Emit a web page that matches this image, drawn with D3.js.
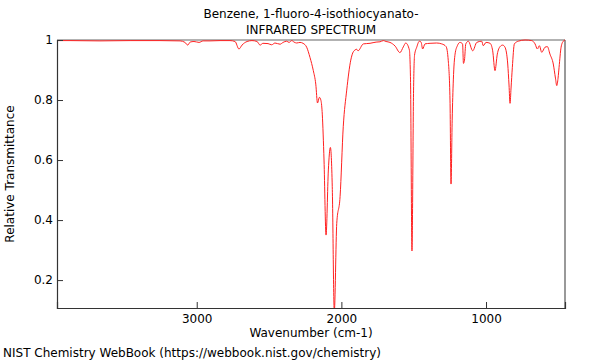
<!DOCTYPE html>
<html><head><meta charset="utf-8">
<script src="https://cdn.jsdelivr.net/npm/d3@7"></script>
<style>body{margin:0;background:#fff;}svg{display:block;font-family:"DejaVu Sans",sans-serif;}</style>
</head><body>
<svg id="chart" width="600" height="360"></svg>
<script>
const titleLines = ["Benzene, 1-fluoro-4-isothiocyanato-", "INFRARED SPECTRUM"];
const xLabel = "Wavenumber (cm-1)";
const yLabel = "Relative Transmittance";
const footer = "NIST Chemistry WebBook (https://webbook.nist.gov/chemistry)";
const xTicks = [3000, 2000, 1000];
const yTicks = [0.2, 0.4, 0.6, 0.8, 1];
const wavenumber = [3966,3876,3669,3461,3254,3115,3081,3062,3046,3019,2984,2956,2908,2839,2770,2735,2708,2687,2652,2618,2583,2562,2542,2507,2482,2459,2424,2403,2378,2362,2343,2327,2309,2286,2265,2240,2217,2194,2177,2165,2152,2141,2132,2120,2106,2090,2076,2063,2049,2032,2009,1987,1963,1935,1917,1894,1885,1848,1802,1760,1733,1710,1691,1664,1629,1595,1572,1555,1530,1522,1512,1501,1494,1479,1461,1449,1438,1422,1387,1341,1306,1276,1261,1249,1242,1234,1226,1214,1198,1180,1162,1156,1149,1140,1122,1092,1064,1030,1019,1000,972,954,938,922,903,885,869,850,841,834,827,818,804,777,730,684,661,645,631,615,592,576,558,535,520,511,502,495,481,466,454];
const transmittance = [0.998,0.998,0.997,0.998,0.998,0.997,0.992,0.983,0.993,0.995,0.992,0.997,0.997,0.998,0.998,0.995,0.970,0.983,0.995,0.998,0.995,0.983,0.989,0.988,0.984,0.990,0.986,0.992,0.996,0.992,0.998,0.993,0.990,0.992,0.989,0.976,0.942,0.898,0.853,0.790,0.809,0.798,0.753,0.600,0.350,0.567,0.642,0.511,0.093,0.389,0.478,0.711,0.833,0.933,0.961,0.969,0.964,0.987,0.989,0.993,0.994,0.998,0.995,0.992,0.980,0.958,0.977,0.990,0.967,0.867,0.297,0.833,0.950,0.976,0.996,0.993,0.970,0.987,0.989,0.990,0.987,0.978,0.931,0.800,0.520,0.733,0.867,0.953,0.981,0.992,0.987,0.922,0.933,0.987,0.996,0.964,0.992,0.996,0.981,0.992,0.989,0.964,0.898,0.953,0.978,0.983,0.976,0.920,0.850,0.789,0.840,0.909,0.987,0.996,1.000,0.998,0.987,0.970,0.981,0.959,0.976,0.978,0.953,0.920,0.873,0.848,0.873,0.909,0.976,0.996,1.000];

const svg = d3.select("#chart");
const m = {left:57, right:565, top:40, bottom:308};
const x = d3.scaleLinear().domain([3966, 454]).range([m.left, m.right]);
const y = d3.scaleLinear().domain([0.107, 1]).range([m.bottom, m.top]);
const data = wavenumber.map((w,i)=>({w, t: transmittance[i]}));

svg.append("defs").append("clipPath").attr("id","clip")
  .append("rect").attr("x", m.left).attr("y", m.top - 2).attr("width", m.right - m.left).attr("height", m.bottom - m.top + 2);

// frame top & right (gray)
svg.append("line").attr("x1", m.left).attr("x2", m.right).attr("y1", m.top).attr("y2", m.top)
  .attr("stroke", "#999").attr("stroke-width", 1.5);
svg.append("line").attr("x1", m.right).attr("x2", m.right).attr("y1", m.top).attr("y2", m.bottom)
  .attr("stroke", "#555").attr("stroke-width", 1.2);

// spectrum
svg.append("path").datum(data)
  .attr("clip-path", "url(#clip)")
  .attr("fill", "none").attr("stroke", "#ff2020").attr("stroke-width", 1)
  .attr("d", d3.line().x(d=>x(d.w)).y(d=>y(d.t)).curve(d3.curveMonotoneX));

// axes
const xMinor = d3.range(3900, 453, -100);
const yMinor = d3.range(0.15, 1.0, 0.05);
const xAxis = d3.axisBottom(x).tickValues(xTicks).tickFormat(d3.format("d")).tickSize(-6).tickPadding(6);
const xAxisMinor = d3.axisBottom(x).tickValues(xMinor).tickFormat("").tickSize(-3);
const gx = svg.append("g").attr("transform", `translate(0,${m.bottom})`);
gx.call(xAxisMinor);
gx.call(xAxis);
const yAxis = d3.axisLeft(y).tickValues(yTicks).tickFormat(d=> d===1 ? "1" : d3.format(".1f")(d)).tickSize(-6).tickPadding(4);
const yAxisMinor = d3.axisLeft(y).tickValues(yMinor).tickFormat("").tickSize(-3);
const gy = svg.append("g").attr("transform", `translate(${m.left},0)`);
gy.call(yAxisMinor);
gy.call(yAxis);
[gx, gy].forEach(g=>{
  g.selectAll(".domain").attr("stroke", "#333").attr("stroke-width", 1.2);
  g.selectAll(".tick line").attr("stroke", "#333");
  g.selectAll(".tick text").attr("fill", "#000").style("font-size", "12px").style("font-family", "DejaVu Sans, sans-serif");
});

// titles
svg.append("text").attr("x", 311).attr("y", 18).attr("text-anchor", "middle")
  .style("font-size", "12px").text(titleLines[0]);
svg.append("text").attr("x", 311).attr("y", 34).attr("text-anchor", "middle")
  .style("font-size", "12px").text(titleLines[1]);
svg.append("text").attr("x", 311).attr("y", 337).attr("text-anchor", "middle")
  .style("font-size", "12px").text(xLabel);
svg.append("text").attr("transform", "translate(14,174) rotate(-90)").attr("text-anchor", "middle")
  .style("font-size", "12px").text(yLabel);
svg.append("text").attr("x", 3).attr("y", 357).style("font-size", "12px").text(footer);
</script>
</body></html>
